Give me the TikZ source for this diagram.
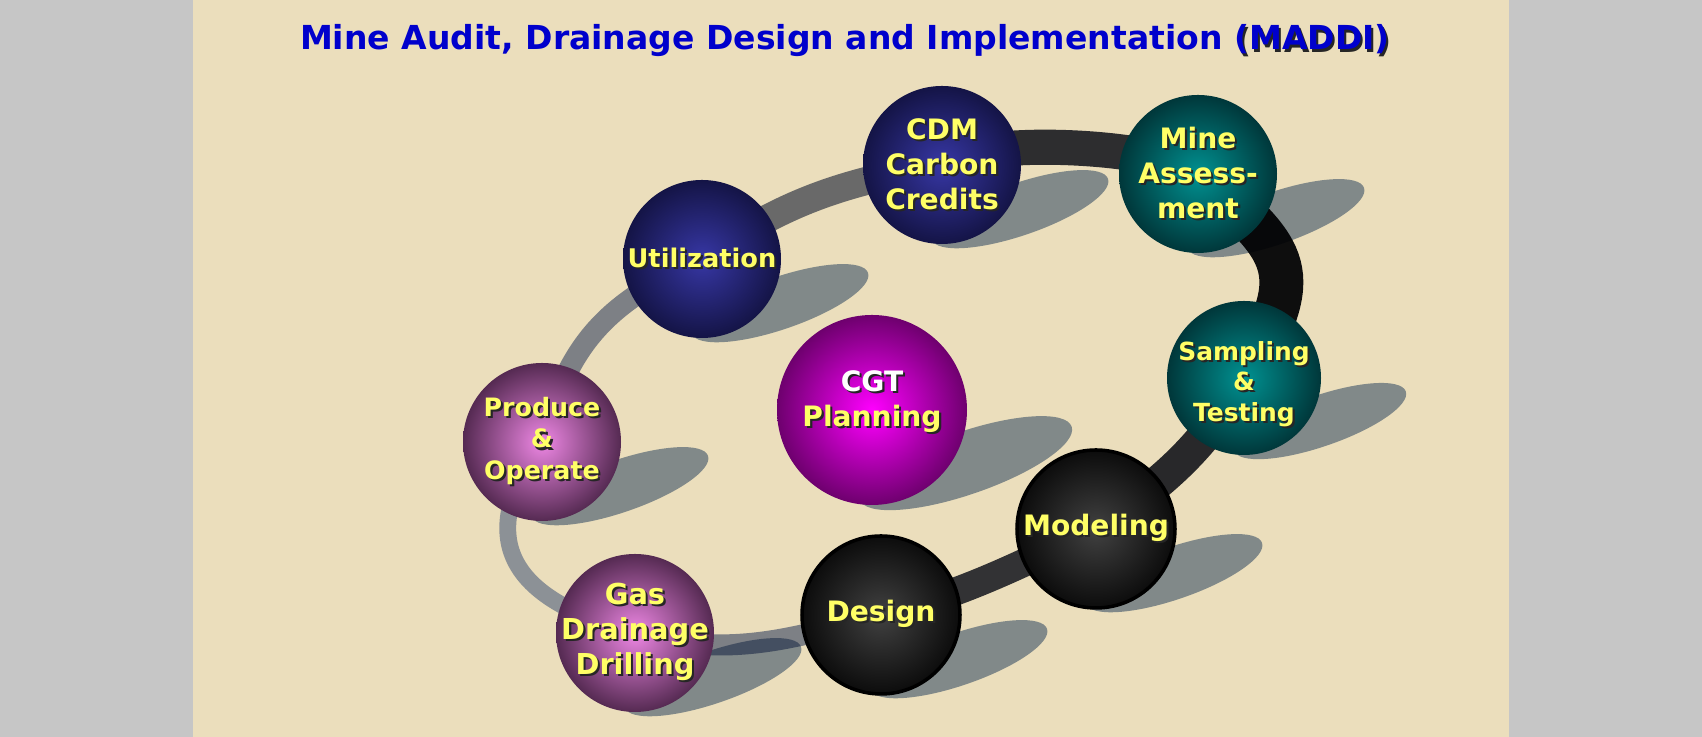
\documentclass[tikz,border=0pt]{standalone}
\usepackage{fontspec}
\setmainfont{DejaVu Sans}
\usetikzlibrary{backgrounds}

\definecolor{sidegray}{RGB}{198,198,198}
\definecolor{paper}{RGB}{235,222,188}
\definecolor{titleblue}{RGB}{0,0,204}
\definecolor{lblyellow}{RGB}{255,255,102}
\definecolor{shadowtint}{RGB}{140,158,186}
\definecolor{navyin}{RGB}{55,55,165}
\definecolor{navyout}{RGB}{20,20,70}
\definecolor{tealin}{RGB}{0,145,145}
\definecolor{tealout}{RGB}{0,55,58}
\definecolor{magin}{RGB}{255,0,255}
\definecolor{magout}{RGB}{110,0,110}
\definecolor{pinkin}{RGB}{238,135,228}
\definecolor{pinkout}{RGB}{85,42,82}
\definecolor{blackin}{RGB}{65,65,65}
\definecolor{blackout}{RGB}{12,12,12}
\definecolor{bandpale}{RGB}{140,145,150}
\definecolor{bandlight}{RGB}{125,128,133}
\definecolor{bandmid}{RGB}{105,105,105}
\definecolor{banddark}{RGB}{50,50,52}
\definecolor{bandblack}{RGB}{14,14,14}

\newcommand{\shd}[1]{\leavevmode\rlap{\kern.6pt\raisebox{-.6pt}{\color{black!85}#1}}#1}

\begin{document}
\begin{tikzpicture}[
  ball/.style={circle,inner sep=0pt,minimum size=1.58cm,shading=radial},
  navyball/.style={ball,inner color=navyin,outer color=navyout},
  tealball/.style={ball,inner color=tealin,outer color=tealout},
  magball/.style={ball,inner color=magin,outer color=magout,minimum size=1.9cm},
  pinkball/.style={ball,inner color=pinkin,outer color=pinkout},
  blackball/.style={ball,inner color=blackin,outer color=blackout,draw=black,line width=1pt},
  lbl/.style={text=lblyellow,align=center,font=\fontsize{8}{10}\selectfont\bfseries},
  lblsmall/.style={lbl,font=\fontsize{7.2}{9}\selectfont\bfseries},
  ring/.style={line width=#1,line cap=butt},
  ballshadow/.style={fill=shadowtint,blend mode=multiply}
]
\useasboundingbox (0,0) rectangle (17.02,7.37);

\node[anchor=base,text=titleblue,font=\fontsize{9.4}{11}\selectfont\bfseries] (title) at (8.45,6.87)
  {Mine Audit, Drainage Design and Implementation \shd{(MADDI)}};

\node[navyball] (cdm) at (9.42,5.72) {};
\node[tealball] (mine) at (11.98,5.63) {};
\node[navyball] (util) at (7.02,4.78) {};
\node[magball] (cgt) at (8.72,3.27) {};
\node[pinkball] (produce) at (5.42,2.95) {};
\node[tealball,minimum size=1.54cm] (samp) at (12.44,3.59) {};
\node[blackball] (model) at (10.96,2.08) {};
\node[blackball] (design) at (8.81,1.22) {};
\node[pinkball] (gas) at (6.35,1.04) {};

\node[lbl] (cdmT) at (cdm) {\shd{CDM}\\\shd{Carbon}\\\shd{Credits}};
\node[lbl] (mineT) at (mine) {\shd{Mine}\\\shd{Assess-}\\\shd{ment}};
\node[lbl,font=\fontsize{7.3}{9}\selectfont\bfseries] (utilT) at (util) {\shd{Utilization}};
\node[lbl] (cgtT) at ([yshift=.075cm]cgt) {{\color{white}\shd{CGT}}\\\shd{Planning}};
\node[lblsmall] (produceT) at (produce) {\shd{Produce}\\\shd{\&}\\\shd{Operate}};
\node[lblsmall,font=\fontsize{7.1}{8.7}\selectfont\bfseries] (sampT) at ([yshift=-.07cm]samp) {\shd{Sampling}\\\shd{\&}\\\shd{Testing}};
\node[lbl] (modelT) at (model) {\shd{Modeling}};
\node[lbl] (designT) at (design) {\shd{Design}};
\node[lbl,font=\fontsize{8.2}{10}\selectfont\bfseries] (gasT) at (gas) {\shd{Gas}\\\shd{Drainage}\\\shd{Drilling}};

\begin{scope}[on background layer]
\fill[sidegray] (0,0) rectangle (17.02,7.37);
\fill[paper] (1.93,0) rectangle (15.09,7.37);
\draw[ring=6pt,draw=bandlight] (gas.center) to[out=-15,in=195] (design.center);
\draw[ring=8pt,draw=banddark] (design.center) to[out=15,in=205] (model.center);
\draw[ring=9.5pt,draw=banddark!80!black] (model.center) to[out=35,in=240] (samp.center);
\draw[ring=12.5pt,draw=bandblack] (samp.center) to[out=60,in=-40,looseness=1.5] (mine.center);
\draw[ring=10pt,draw=banddark!90!black] (mine.center) to[out=140,in=40,looseness=.45] (cdm.center);
\draw[ring=8pt,draw=bandmid] (cdm.center) to[out=190,in=35] (util.center);
\draw[ring=6pt,draw=bandlight] (util.center) to[out=205,in=75,looseness=1.1] (produce.center);
\draw[ring=4.8pt,draw=bandpale] (produce.center) to[out=235,in=165,looseness=1.5] (gas.center);
\foreach \b/\r in {cdm/0.79,mine/0.79,util/0.79,cgt/0.95,produce/0.79,samp/0.77,model/0.79,design/0.79,gas/0.79}
  \fill[ballshadow,shift={(\b.center)},rotate=19] (0.75*\r,-0.85*\r) ellipse [x radius=1.18*\r,y radius=0.33*\r];
\end{scope}
\end{tikzpicture}
\end{document}
